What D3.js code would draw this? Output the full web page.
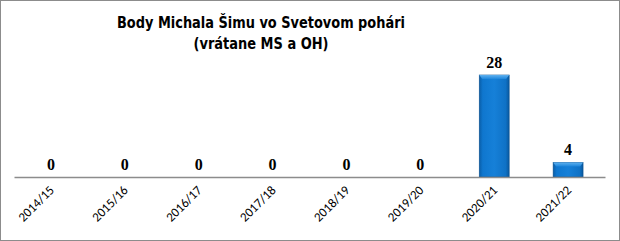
<!DOCTYPE html>
<html><head><meta charset="utf-8">
<script src="https://cdn.jsdelivr.net/npm/d3@7"></script>
<style>html,body{margin:0;padding:0;background:#fff}svg{display:block}</style>
</head><body>
<script>
const categories = ["2014/15","2015/16","2016/17","2017/18","2018/19","2019/20","2020/21","2021/22"];
const points = [0,0,0,0,0,0,28,4];
const titleLines = ["Body Michala Šimu vo Svetovom pohári","(vrátane MS a OH)"];

const W = 620, H = 241;
const svg = d3.select("body").append("svg").attr("width", W).attr("height", H);

const defs = svg.append("defs");
const g1 = defs.append("linearGradient").attr("id","barG").attr("x1","0").attr("x2","1").attr("y1","0").attr("y2","0");
g1.append("stop").attr("offset","0").attr("stop-color","#0a5ea8");
g1.append("stop").attr("offset","0.12").attr("stop-color","#0f77cf");
g1.append("stop").attr("offset","0.5").attr("stop-color","#1680d8");
g1.append("stop").attr("offset","0.88").attr("stop-color","#0f72c6");
g1.append("stop").attr("offset","1").attr("stop-color","#09589e");
const g2 = defs.append("linearGradient").attr("id","topG").attr("x1","0").attr("x2","0").attr("y1","0").attr("y2","1");
g2.append("stop").attr("offset","0").attr("stop-color","#5fb0ee");
g2.append("stop").attr("offset","1").attr("stop-color","#1d86dc");

svg.append("rect").attr("x",0.5).attr("y",0.5).attr("width",W-1).attr("height",H-1)
  .attr("fill","#fff").attr("stroke","#8c8c8c");

const x = d3.scaleBand().domain(categories).range([14, 605]).paddingInner(0.595).paddingOuter(0.297);
const y = d3.scaleLinear().domain([0, 28]).range([177, 75]);

const title = svg.append("g").attr("font-family","'DejaVu Sans', sans-serif").attr("font-weight","bold")
  .attr("font-size",16).attr("text-anchor","middle").attr("fill","#000");
title.append("text").attr("x",261).attr("y",28).attr("textLength",288).attr("lengthAdjust","spacingAndGlyphs").text(titleLines[0]);
title.append("text").attr("x",261).attr("y",49).attr("textLength",135).attr("lengthAdjust","spacingAndGlyphs").text(titleLines[1]);

const bars = svg.append("g").selectAll("g").data(categories.map((c,i)=>({c, v: points[i]}))).join("g");
bars.filter(d=>d.v>0).append("rect")
  .attr("x", d=>x(d.c)).attr("y", d=>y(d.v)).attr("width", x.bandwidth()).attr("height", d=>y(0)-y(d.v))
  .attr("fill","url(#barG)").attr("stroke","#0a4f8c").attr("stroke-width",0.6);
bars.filter(d=>d.v>0).append("path")
  .attr("d", d=>{const x0=x(d.c), x1=x0+x.bandwidth(), t=y(d.v); return `M${x0},${t}L${x1},${t}L${x1-3},${t+4}L${x0+3},${t+4}Z`;})
  .attr("fill","url(#topG)");

svg.append("g").selectAll("text").data(categories.map((c,i)=>({c, v: points[i]}))).join("text")
  .attr("x", d=>x(d.c)+x.bandwidth()/2).attr("y", d=>y(d.v)-7)
  .attr("text-anchor","middle").attr("font-family","'Liberation Serif', serif").attr("font-weight","bold")
  .attr("font-size",16).attr("fill","#000").text(d=>d.v);

const xAxis = svg.append("g").attr("transform",`translate(0,177)`)
  .call(d3.axisBottom(x).tickSize(0).tickPadding(0));
xAxis.select(".domain").attr("stroke","#8c8c8c").attr("stroke-width",1.5);
xAxis.selectAll("text").attr("font-family","Carlito, 'Liberation Sans', sans-serif").attr("font-size",13).attr("fill","#000")
  .attr("text-anchor","end").attr("dy",null).attr("y",0)
  .attr("transform",`translate(4,14) rotate(-45)`);
</script>
</body></html>
